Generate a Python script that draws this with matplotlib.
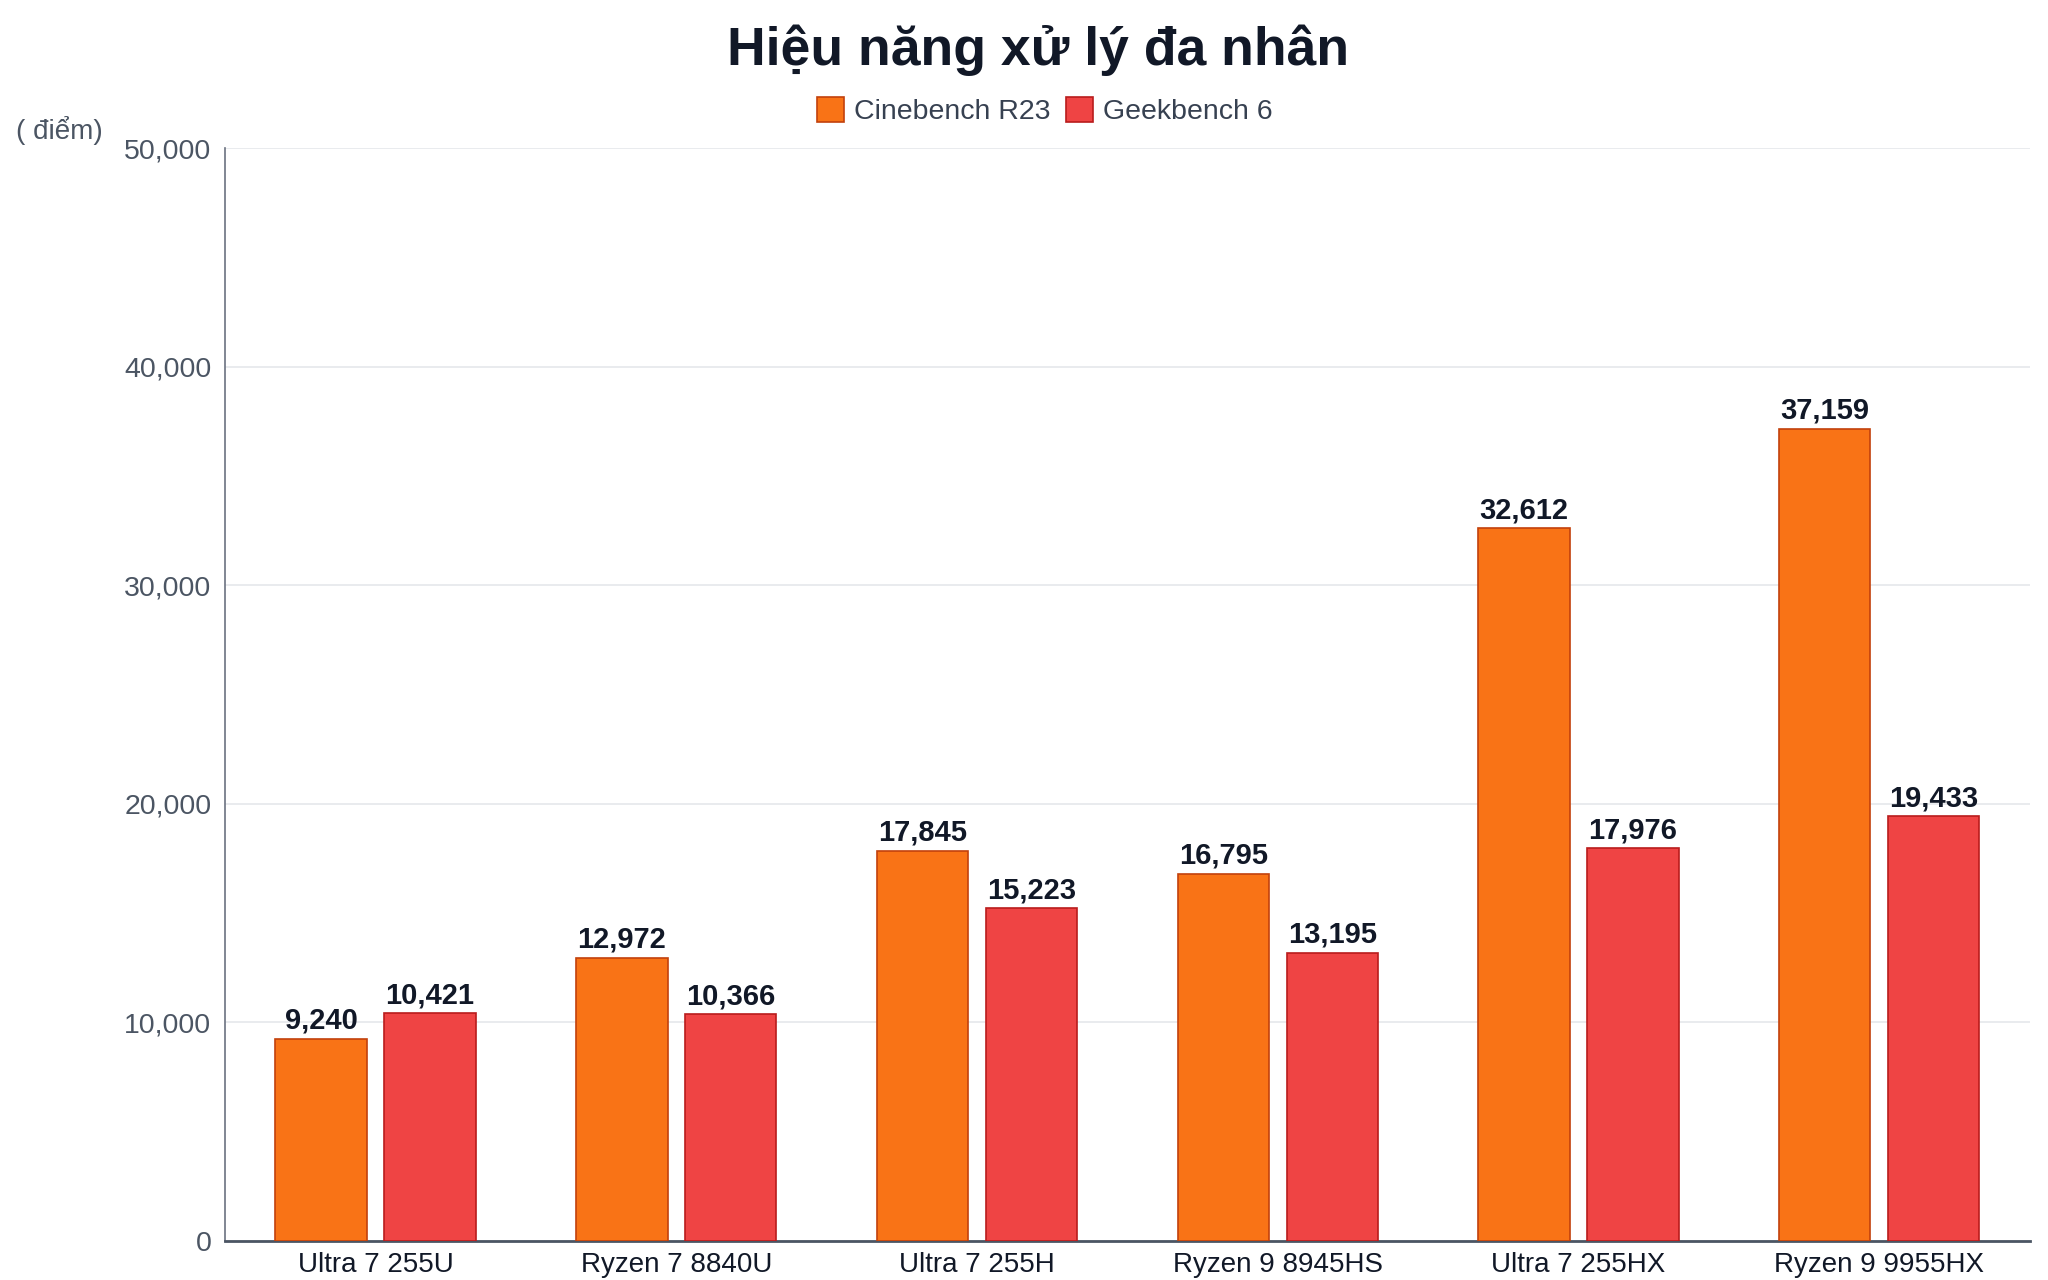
import matplotlib
matplotlib.use("Agg")
import matplotlib.pyplot as plt
import numpy as np

plt.rcParams['font.family'] = ['Liberation Sans', 'DejaVu Sans']

cpus = ["Ultra 7 255U", "Ryzen 7 8840U", "Ultra 7 255H",
        "Ryzen 9 8945HS", "Ultra 7 255HX", "Ryzen 9 9955HX"]
cinebench = [9240, 12972, 17845, 16795, 32612, 37159]
geekbench = [10421, 10366, 15223, 13195, 17976, 19433]
series_names = ["Cinebench R23", "Geekbench 6"]
y_ticks = [0, 10000, 20000, 30000, 40000, 50000]

ORANGE = "#f97316"
RED = "#ef4444"
DARK = "#111827"
GRAY = "#4b5563"

fig = plt.figure(figsize=(20.48, 12.8), dpi=100)
ax = fig.add_axes([0.110, 0.0305, 0.881, 0.8535])

x = np.arange(len(cpus))
w = 0.304
off = 0.181
b1 = ax.bar(x - off, cinebench, w, color=ORANGE, edgecolor="#c2410c",
            linewidth=1.2, label=series_names[0], zorder=3)
b2 = ax.bar(x + off, geekbench, w, color=RED, edgecolor="#b91c1c",
            linewidth=1.2, label=series_names[1], zorder=3)

for bars, vals in ((b1, cinebench), (b2, geekbench)):
    for rect, v in zip(bars, vals):
        ax.annotate(f"{v:,}", (rect.get_x() + rect.get_width() / 2, v),
                    xytext=(0, 3), textcoords="offset points",
                    ha="center", va="bottom", fontsize=21,
                    fontweight="bold", color=DARK)

ax.set_xlim(-0.5, len(cpus) - 0.5)
ax.set_ylim(0, 50000)
ax.set_yticks(y_ticks)
ax.set_yticklabels([f"{t:,}" for t in y_ticks])
ax.set_xticks(x)
ax.set_xticklabels(cpus)
ax.tick_params(axis="y", length=0, pad=10, labelsize=20.5, labelcolor=GRAY)
ax.tick_params(axis="x", length=0, pad=8, labelsize=20, labelcolor=DARK)
ax.grid(axis="y", color="#e5e7eb", linewidth=1.2, zorder=0)
ax.set_axisbelow(True)

for s in ("top", "right"):
    ax.spines[s].set_visible(False)
ax.spines["left"].set_color("#6b7280")
ax.spines["left"].set_linewidth(1.2)
ax.spines["bottom"].set_color("#4b5563")
ax.spines["bottom"].set_linewidth(2)

fig.text(0.507, 0.961, "Hiệu năng xử lý đa nhân", ha="center", va="center",
         fontsize=38.5, fontweight="bold", color=DARK)
leg = fig.legend(handles=[b1, b2], labels=series_names, loc="center",
                 bbox_to_anchor=(0.51, 0.913), ncol=2, frameon=False,
                 fontsize=20.5, handlelength=0.95, handleheight=0.95,
                 handletextpad=0.35, columnspacing=0.55)
for t in leg.get_texts():
    t.set_color("#374151")
fig.text(0.008, 0.898, "( điểm)", ha="left", va="center",
         fontsize=20, color=GRAY)

fig.savefig("out.png", dpi=100)
